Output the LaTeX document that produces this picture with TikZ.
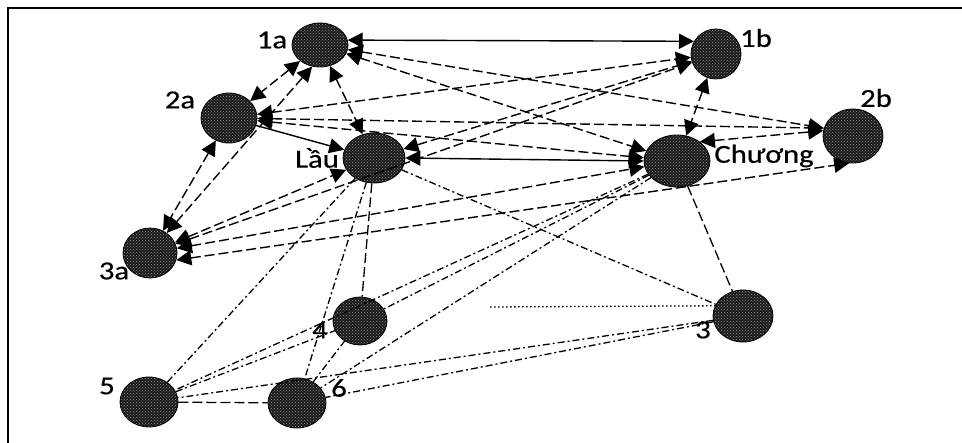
\documentclass[tikz,border=0pt]{standalone}
\usepackage{fontspec}
\setmainfont{Carlito}
\newfontfamily\labfont{Carlito}[FakeBold=0.45]
\usetikzlibrary{arrows.meta,patterns,shapes.geometric}
\newcommand\stretchtext[1]{\scalebox{1.18}[1]{#1}}

\begin{document}
\begin{tikzpicture}[x=1pt,y=-1pt,
  actor/.style={ellipse, draw=black, line width=0.8pt, inner sep=0pt,
    preaction={fill=black!90}, pattern=crosshatch dots, pattern color=black!40},
  lab/.style={font=\labfont\fontsize{26}{26}\selectfont, inner sep=0pt},
  link/.style={line width=1.4pt, {Triangle[length=15pt,width=15pt]}-{Triangle[length=15pt,width=15pt]}},
  dlink/.style={link, dash pattern=on 10pt off 4pt},
  onelink/.style={line width=1.4pt, -{Triangle[length=15pt,width=15pt]}},
  tie/.style={line width=1.3pt, dash pattern=on 7pt off 3pt on 2pt off 3pt},
  longtie/.style={line width=1.3pt, dash pattern=on 10pt off 4pt},
  dottie/.style={line width=1.3pt, dash pattern=on 1.5pt off 2.5pt}]

\useasboundingbox (0,0) rectangle (962,443);

% frame
\draw[line width=1.5pt] (8,443) -- (8,8) -- (962,8);

% actors
\node[actor, minimum width=56pt, minimum height=44pt] (n1a) at (320,45) {};
\node[actor, minimum width=50pt, minimum height=50pt] (n1b) at (716,54) {};
\node[actor, minimum width=56pt, minimum height=50pt] (n2a) at (229,118) {};
\node[actor, minimum width=60pt, minimum height=54pt] (n2b) at (853,136) {};
\node[actor, minimum width=62pt, minimum height=50pt] (nL)  at (374,158) {};
\node[actor, minimum width=66pt, minimum height=52pt] (nC)  at (677,161) {};
\node[actor, minimum width=54pt, minimum height=50pt] (n3a) at (150,253) {};
\node[actor, minimum width=54pt, minimum height=48pt] (n4)  at (360,321) {};
\node[actor, minimum width=58pt, minimum height=50pt] (n5)  at (149,402) {};
\node[actor, minimum width=58pt, minimum height=50pt] (n6)  at (297,403) {};
\node[actor, minimum width=60pt, minimum height=52pt] (n3)  at (743,316) {};

% labels
\node[lab] (t1a) at (272,40)  {\stretchtext{1a}};
\node[lab] (t1b) at (756,38)  {\stretchtext{1b}};
\node[lab] (t2a) at (180,100) {\stretchtext{2a}};
\node[lab] (t2b) at (876,98)  {\stretchtext{2b}};
\node[lab] (tL)  at (317,158) {\stretchtext{Lầu}};
\node[lab] (tC)  at (764,156) {\stretchtext{Chương}};
\node[lab] (t3a) at (114,271) {\stretchtext{3a}};
\node[lab] (t4)  at (320,330) {\stretchtext{4}};
\node[lab] (t5)  at (107,386) {\stretchtext{5}};
\node[lab] (t6)  at (339,388) {\stretchtext{6}};
\node[lab] (t3)  at (703,330) {\stretchtext{3}};

% directed ties among the upper actors
\draw[link]  (n1a.10) -- (n1b.150);
\draw[dlink] (n1a) -- (n2a);
\draw[dlink] (n1a) -- (nL);
\draw[dlink] (n1a.250) -- (n3a.50);
\draw[dlink] (n1a) -- (nC);
\draw[dlink] (n1a) -- (n2b.165);
\draw[dlink] (n2a) -- (n3a);
\draw[onelink] (n2a) -- (nL);
\draw[dlink] (n2a) -- (n1b);
\draw[dlink] (n2a) -- (n2b.165);
\draw[dlink] (n2a) -- (nC);
\draw[dlink] (nL) -- (n1b);
\draw[link]  (nL.east) -- (nC.west);
\draw[dlink] (n1b) -- (nC);
\draw[dlink] (nC.40) -- (n2b.170);
\draw[dlink] (n3a) -- (n1b);
\draw[dlink] (n3a) -- (nC);
\draw[dlink] (n3a.345) -- (n2b.262);
\draw[dlink] (n3a) -- (nL);

% undirected ties to the lower actors
\draw[tie] (nL) -- (n5);
\draw[tie] (nL) -- (n6);
\draw[longtie] (nL) -- (n4);
\draw[tie] (nL) -- (n3);
\draw[longtie] (nC) -- (n3);
\draw[tie] (nC) -- (n4);
\draw[tie] (nC) -- (n5);
\draw[tie] (nC) -- (n6);
\coordinate (d4) at (490,307);
\draw[dottie] (d4) -- (n3.160);
\draw[tie] (n3) -- (n5);
\draw[tie] (n3) -- (n6);
\draw[longtie] (n5) -- (n6);
\draw[tie] (n5) -- (n4);
\draw[tie] (n6) -- (n4);

\end{tikzpicture}
\end{document}
